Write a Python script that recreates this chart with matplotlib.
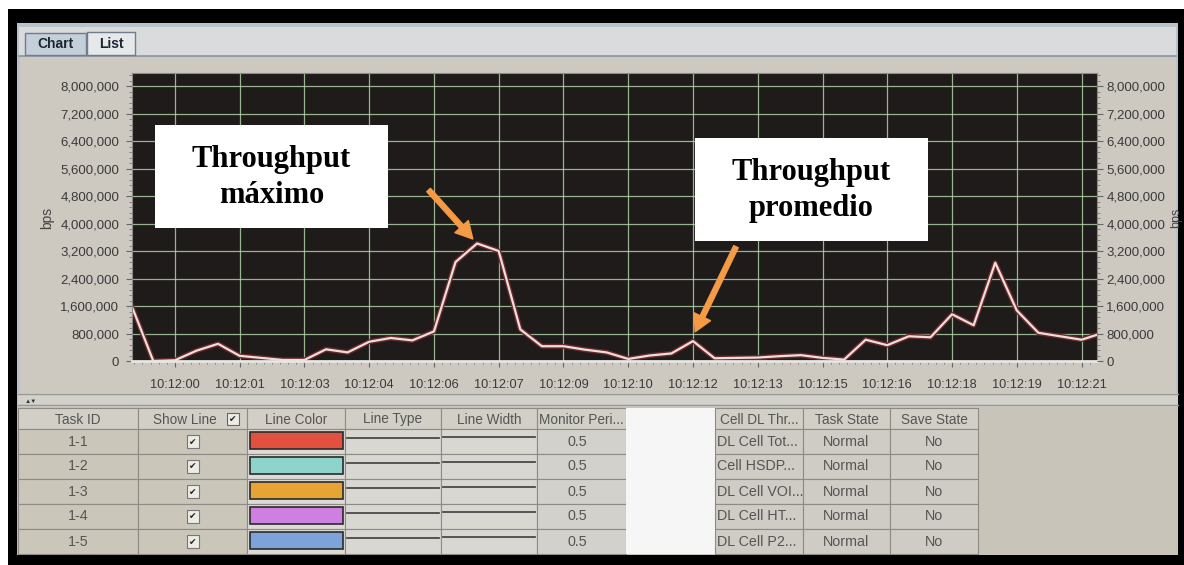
import matplotlib
matplotlib.use('Agg')
import matplotlib.pyplot as plt
from matplotlib.patches import Rectangle
from matplotlib.lines import Line2D
from matplotlib.ticker import FixedLocator, MultipleLocator

########
# Data (0.5 s monitor period, t = seconds after 10:12:00)
t_sec = [-1.0, -0.5, 0.0, 0.5, 1.0, 1.5, 2.0, 2.5, 3.0, 3.5, 4.0, 4.5,
         5.0, 5.5, 6.0, 6.5, 7.0, 7.5, 8.0, 8.5, 9.0, 9.5, 10.0, 10.5,
         11.0, 11.5, 12.0, 12.5, 13.0, 13.5, 14.0, 14.5, 15.0, 15.5, 16.0, 16.5,
         17.0, 17.5, 18.0, 18.5, 19.0, 19.5, 20.0, 20.5, 21.0, 21.5]
bps = [1600000, 0, 20000, 300000, 500000, 150000, 90000, 30000, 30000, 340000, 250000, 560000,
       670000, 600000, 860000, 2880000, 3420000, 3200000, 920000, 430000, 430000, 330000, 250000, 60000,
       160000, 220000, 580000, 80000, 90000, 100000, 140000, 170000, 90000, 40000, 620000, 460000,
       720000, 690000, 1360000, 1040000, 2860000, 1470000, 820000, 720000, 620000, 820000]

x_ticks = [0.0, 1.5, 3.0, 4.5, 6.0, 7.5, 9.0, 10.5, 12.0, 13.5, 15.0, 16.5, 18.0, 19.5, 21.0]
x_labels = ['10:12:00', '10:12:01', '10:12:03', '10:12:04', '10:12:06', '10:12:07', '10:12:09',
            '10:12:10', '10:12:12', '10:12:13', '10:12:15', '10:12:16', '10:12:18', '10:12:19', '10:12:21']
y_ticks = [0, 800000, 1600000, 2400000, 3200000, 4000000, 4800000, 5600000, 6400000, 7200000, 8000000]
y_labels = ['0', '800,000', '1,600,000', '2,400,000', '3,200,000', '4,000,000', '4,800,000',
            '5,600,000', '6,400,000', '7,200,000', '8,000,000']

# table under the chart
headers = ['Task ID', 'Show Line', 'Line Color', 'Line Type', 'Line Width', 'Monitor Peri...',
           '', 'Cell DL Thr...', 'Task State', 'Save State']
task_ids = ['1-1', '1-2', '1-3', '1-4', '1-5']
line_colors = ['#e2503f', '#8ed4cc', '#e6a435', '#cf7fe0', '#7da3d9']
monitor_period = ['0.5', '0.5', '0.5', '0.5', '0.5']
counter_names = ['DL Cell Tot...', 'Cell HSDP...', 'DL Cell VOI...', 'DL Cell HT...', 'DL Cell P2...']
task_state = ['Normal', 'Normal', 'Normal', 'Normal', 'Normal']
save_state = ['No', 'No', 'No', 'No', 'No']

########
W, H = 1184, 565
plt.rcParams['font.family'] = ['Liberation Sans', 'DejaVu Sans']
fig = plt.figure(figsize=(W / 100, H / 100), dpi=100)


def rect(x0, y0, x1, y1, fc, ec='none', lw=0, z=-5):
    # pixel box, origin top-left
    fig.add_artist(Rectangle((x0 / W, 1 - y1 / H), (x1 - x0) / W, (y1 - y0) / H,
                             transform=fig.transFigure, facecolor=fc, edgecolor=ec,
                             linewidth=lw, zorder=z))


def line(x0, y0, x1, y1, color, lw=1, z=-4):
    fig.add_artist(Line2D([x0 / W, x1 / W], [1 - y0 / H, 1 - y1 / H],
                          transform=fig.transFigure, color=color, lw=lw, zorder=z))


def label(x, y, s, **kw):
    fig.text(x / W, 1 - y / H, s, **kw)


# screen frame / window
rect(0, 0, W, H, 'white', z=-10)
rect(8, 9, W, H, 'black', z=-9)
rect(17, 23, 1178, 555, '#b7c2cb', z=-8)
rect(19, 27, 1176, 56, '#d9dbdc', z=-7)
rect(20, 57, 1176, 393, '#cdc9c1', z=-7)
rect(18, 393, 1178, 407, '#d3d1cb', z=-7)
rect(18, 407, 1178, 555, '#c8c4ba', z=-7)
line(19, 56, 1176, 56, '#8a96a3', lw=1.2)
line(18, 394, 1178, 394, '#9a978f', lw=1)
line(18, 405, 1178, 405, '#9a978f', lw=1)
label(31, 401, '▲▼', fontsize=4.5, color='#333333', ha='center', va='center')

# tabs
rect(25, 33, 86, 55, '#c4cfda', ec='#6f7d8c', lw=1, z=-3)
rect(87, 32, 135, 55, '#e6e8ea', ec='#6f7d8c', lw=1, z=-3)
label(55.5, 44, 'Chart', fontsize=10, fontweight='bold', color='#1b2633', ha='center', va='center')
label(111, 44, 'List', fontsize=10, fontweight='bold', color='#1b2633', ha='center', va='center')

########
# chart
ax = fig.add_axes([131.7 / W, 1 - 361 / H, (1096.7 - 131.7) / W, (361 - 73) / H])
ax.set_facecolor('#1f1b1b')
ax.plot(t_sec, bps, color='#6b2a2a', lw=3.6, solid_joinstyle='round')
ax.plot(t_sec, bps, color='#efdddd', lw=1.6, solid_joinstyle='round')
ax.set_xlim(-1.0, 21.35)
ax.set_ylim(0, 8380000)
ax.xaxis.set_major_locator(FixedLocator(x_ticks))
ax.set_xticklabels(x_labels)
ax.xaxis.set_minor_locator(MultipleLocator(1.5 / 8))
ax.yaxis.set_major_locator(FixedLocator(y_ticks))
ax.set_yticklabels(y_labels)
ax.yaxis.set_minor_locator(MultipleLocator(160000))
ax.grid(True, which='major', color='#aecfa6', lw=0.9, alpha=0.85)
ax.tick_params(axis='x', which='major', length=4, pad=9, labelsize=9.2,
               color='#666666', labelcolor='#3a3a3a')
ax.tick_params(axis='y', which='major', length=4, pad=5, labelsize=9.5,
               color='#666666', labelcolor='#3a3a3a')
ax.tick_params(which='minor', length=2, color='#777777')
for s in ax.spines.values():
    s.set_color('#8a8a8a')
ax.spines['bottom'].set_color('#e6e6e2')
ax.spines['bottom'].set_linewidth(2)

ax2 = ax.twinx()
ax2.set_ylim(ax.get_ylim())
ax2.yaxis.set_major_locator(FixedLocator(y_ticks))
ax2.set_yticklabels(y_labels)
ax2.yaxis.set_minor_locator(MultipleLocator(160000))
ax2.tick_params(axis='y', which='major', length=4, pad=3, labelsize=9.5,
                color='#666666', labelcolor='#3a3a3a')
ax2.tick_params(which='minor', length=2, color='#777777')
for s in ax2.spines.values():
    s.set_visible(False)

label(47, 218, 'bps', rotation=90, fontsize=10, color='#444444', ha='center', va='center')
label(1176, 218, 'bps', rotation=90, fontsize=9, color='#444444', ha='center', va='center')

# callouts
orange = '#f59a45'
rect(155, 125, 388, 228, 'white', z=5)
rect(695, 138, 928, 241, 'white', z=5)
serif = dict(family='Liberation Serif', fontweight='bold', fontsize=22, color='black',
             ha='center', va='baseline', zorder=6)
label(271.5, 167, 'Throughput', **serif)
label(271.5, 203, 'máximo', **serif)
label(811.5, 180, 'Throughput', **serif)
label(811.5, 216, 'promedio', **serif)

arrow = dict(arrowstyle='simple,head_width=1.3,head_length=1.2,tail_width=0.36',
             mutation_scale=10, color=orange, shrinkA=0, shrinkB=0)
ax.annotate('', xy=(6.9, 3550000), xytext=(428.6, H - 190), textcoords='figure pixels',
            arrowprops=arrow, annotation_clip=False)
ax.annotate('', xy=(12.05, 850000), xytext=(736, H - 246.7), textcoords='figure pixels',
            arrowprops=arrow, annotation_clip=False)

########
# table
cols = [18, 138, 247, 345, 441, 537, 626, 715, 803, 890, 978]
col_bg = ['#cbc6ba', '#cbc6ba', '#dddbd7', '#d9d7d2', '#d9d7d2', '#d3d1cc',
          '#f6f6f6', '#cfccc5', '#cfccc5', '#cfccc5']
head_top, head_bot, row_h = 408, 429, 25
grid_c = '#8f8b84'
txt = dict(fontsize=10.3, color='#555555', va='center')
head_txt = dict(txt, fontsize=9.8)

for i, hname in enumerate(headers):
    x0, x1 = cols[i], cols[i + 1]
    gap = hname == ''
    rect(x0, head_top, x1, head_bot, '#f6f6f6' if gap else '#d2cfc7',
         ec='none' if gap else grid_c, lw=0.8, z=-2)
    if not gap:
        xc = (x0 + x1) / 2 - (8 if hname == 'Show Line' else 0)
        label(xc, (head_top + head_bot) / 2 + 1, hname, ha='center', **head_txt)
# header checkbox
rect(227, 413, 239, 425, '#ecebe6', ec='#666666', lw=0.8, z=-1)
label(233, 419.5, '✔', fontsize=6.5, color='#222222', ha='center', va='center',
      family='DejaVu Sans')

for r in range(len(task_ids)):
    y0 = head_bot + r * row_h
    y1 = y0 + row_h
    yc = (y0 + y1) / 2
    for i in range(len(headers)):
        gap = headers[i] == ''
        rect(cols[i], y0, cols[i + 1], y1, col_bg[i], ec='none' if gap else grid_c,
             lw=0.8, z=-2)
    label((cols[0] + cols[1]) / 2, yc, task_ids[r], ha='center', **txt)
    rect(187, yc - 6.5, 199, yc + 6.5, '#ecebe6', ec='#777777', lw=0.8, z=-1)
    label(193, yc + 0.5, '✔', fontsize=6.5, color='#222222', ha='center', va='center',
          family='DejaVu Sans')
    rect(250, y0 + 3, 343, y0 + 20, line_colors[r], ec='#2a2a2a', lw=1.2, z=-1)
    line(347, y0 + 9, 439, y0 + 9, '#4a4a4a', lw=1.3, z=-1)
    line(443, y0 + 8, 535, y0 + 8, '#4a4a4a', lw=1.3, z=-1)
    label((cols[5] + cols[6]) / 2 - 4, yc, monitor_period[r], ha='center', **txt)
    label(cols[7] + 2, yc, counter_names[r], ha='left', **txt)
    label((cols[8] + cols[9]) / 2, yc, task_state[r], ha='center', **txt)
    label((cols[9] + cols[10]) / 2, yc, save_state[r], ha='center', **txt)

fig.savefig('out.png', dpi=100)
